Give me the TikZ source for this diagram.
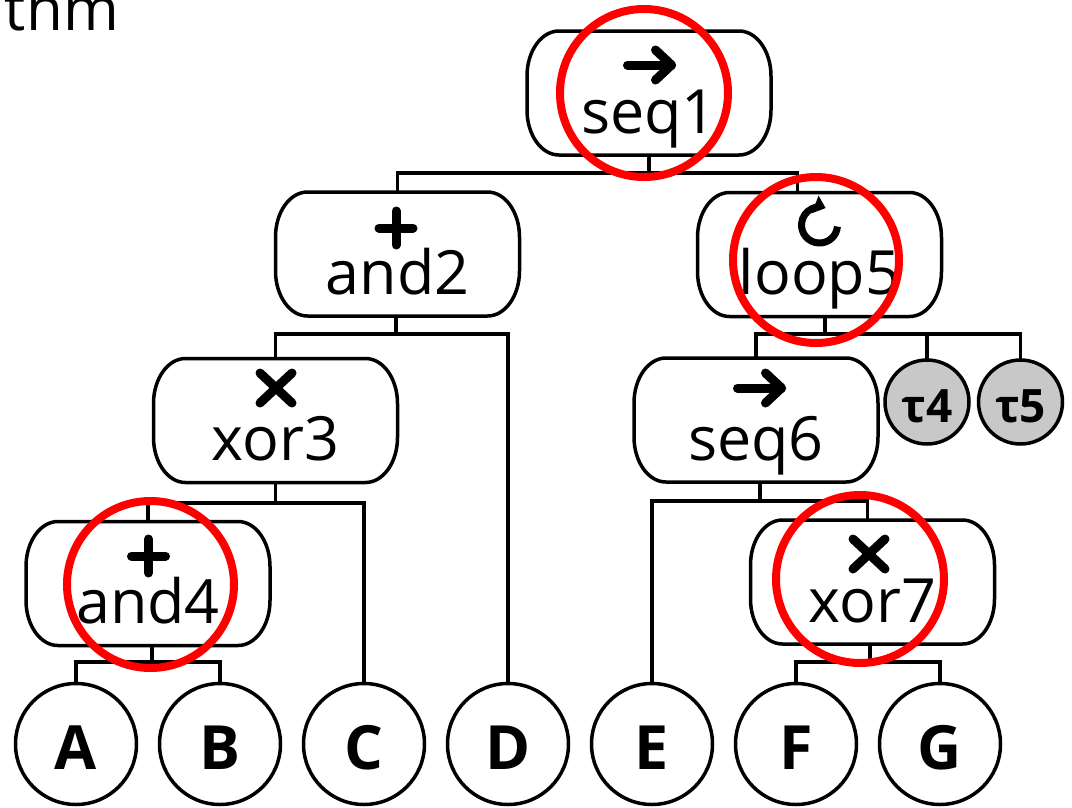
\documentclass[tikz,border=0pt]{standalone}
\usepackage{fontspec}
\setmainfont{Open Sans}
\usetikzlibrary{arrows.meta}
\definecolor{taugray}{RGB}{200,200,200}
\definecolor{hlred}{RGB}{255,0,0}
\newcommand\opoutline[1]{%
  \draw[outline] ([xshift=32pt]#1.north west) -- ([xshift=-32pt]#1.north east)
    arc[start angle=90,end angle=0,x radius=32pt,y radius=45pt]
    -- ([yshift=45pt]#1.south east)
    arc[start angle=0,end angle=-90,x radius=32pt,y radius=45pt]
    -- ([xshift=32pt]#1.south west)
    arc[start angle=270,end angle=180,x radius=32pt,y radius=45pt]
    -- ([yshift=-45pt]#1.north west)
    arc[start angle=180,end angle=90,x radius=32pt,y radius=45pt] -- cycle;}
\newcommand\seqicon[2]{\draw[icon] (#1-22,#2) -- (#1+22,#2);
  \draw[icon] (#1+6,#2-15) -- (#1+22,#2) -- (#1+6,#2+15);}
\newcommand\andicon[2]{\draw[icon] (#1-17,#2) -- (#1+17,#2) (#1,#2-17) -- (#1,#2+17);}
\newcommand\xoricon[2]{\draw[icon] (#1-16,#2-15) -- (#1+16,#2+15) (#1-16,#2+15) -- (#1+16,#2-15);}
\begin{document}
\begin{tikzpicture}[x=1pt,y=-1pt,
  outline/.style={line width=3.5pt},
  conn/.style={line width=3.5pt},
  icon/.style={line width=9pt,line cap=round,line join=round},
  loopicon/.style={line width=7pt},
  opbox/.style={minimum width=244pt,minimum height=124pt,inner sep=0pt,outer sep=0pt,
    text height=80pt,text depth=0pt,font=\fontsize{61}{64}\selectfont},
  leaf/.style={circle,draw,line width=3.5pt,minimum size=121pt,inner sep=0pt,outer sep=0pt,
    text height=50pt,text depth=0pt,font=\fontsize{61}{64}\selectfont\bfseries},
  tau/.style={circle,draw,fill=taugray,line width=3.5pt,minimum size=84pt,inner sep=0pt,outer sep=0pt,
    text height=41pt,text depth=0pt,font=\fontsize{46}{50}\selectfont\bfseries},
  hl/.style={circle,draw=hlred,line width=8pt,inner sep=0pt}]
\useasboundingbox (0,0) rectangle (1072,807);
\fill[white] (0,0) rectangle (1072,807);

\node[anchor=base east,inner sep=0pt,font=\fontsize{60}{64}\selectfont] (title) at (119,30) {thm};

% operator boxes
\node[opbox] (seq1) at (649,93) {seq1};
\node[opbox] (and2) at (397.5,254) {and2};
\node[opbox] (loop5) at (819.5,254.5) {loop5};
\node[opbox] (xor3) at (275.5,420.5) {xor3};
\node[opbox] (seq6) at (756,420) {seq6};
\node[opbox] (and4) at (148,583.5) {and4};
\node[opbox] (xor7) at (872.5,582) {xor7};
\foreach \n in {seq1,and2,loop5,xor3,seq6,and4,xor7} {\opoutline{\n}}

% icons
\seqicon{649.5}{65}
\andicon{396}{228}
\draw[loopicon,-{Triangle[length=11pt,width=18pt]}] ([shift={(-5:18pt)}]819.5,225) arc[start angle=-5,end angle=-290,radius=18pt];
\xoricon{276}{388}
\seqicon{759.5}{388}
\andicon{148.5}{556}
\xoricon{869}{554}

% leaves
\node[leaf] (A) at (76,744) {A};
\node[leaf] (B) at (220,744) {B};
\node[leaf] (C) at (364,744) {C};
\node[leaf] (D) at (508,744) {D};
\node[leaf] (E) at (652,744) {E};
\node[leaf] (F) at (796,744) {F};
\node[leaf] (G) at (940,744) {G};
\node[tau] (t4) at (927,402) {τ4};
\node[tau] (t5) at (1020.5,402) {τ5};

% connectors
\coordinate (j1) at (649,173);
\draw[conn] (seq1.south) -- (j1);
\draw[conn] (and2.north) |- (j1) -| ([xshift=-22pt]loop5.north);

\coordinate (j2) at (825,334);
\draw[conn] (loop5.south -| j2) -- (j2);
\draw[conn] (seq6.north) |- (t5.north |- j2) -- (t5.north);
\draw[conn] (t4.north) -- (t4.north |- j2);

\coordinate (j3) at (396,334);
\draw[conn] (and2.south -| j3) -- (j3);
\draw[conn] (xor3.north) |- (D.north |- j3) -- (D.north);

\coordinate (j4) at (275.5,503);
\draw[conn] (xor3.south) -- (j4);
\draw[conn] (and4.north) |- (C.north |- j4) -- (C.north);

\coordinate (j5) at (152,662);
\draw[conn] (and4.south -| j5) -- (j5);
\draw[conn] (A.north) |- (B.north |- j5) -- (B.north);

\coordinate (j6) at (760,501);
\draw[conn] (seq6.south -| j6) -- (j6);
\draw[conn] (E.north) |- ([xshift=-5pt]xor7.north |- j6) -- ([xshift=-5pt]xor7.north);

\coordinate (j7) at (870,662);
\draw[conn] (xor7.south -| j7) -- (j7);
\draw[conn] (F.north) |- (G.north |- j7) -- (G.north);

% highlight rings
\node[hl,minimum size=168pt] (hl1) at (644,93) {};
\node[hl,minimum size=166pt] (hl2) at (816,260) {};
\node[hl,minimum size=167pt] (hl3) at (150.5,584.5) {};
\node[hl,minimum size=168pt] (hl4) at (860,579) {};
\end{tikzpicture}
\end{document}
